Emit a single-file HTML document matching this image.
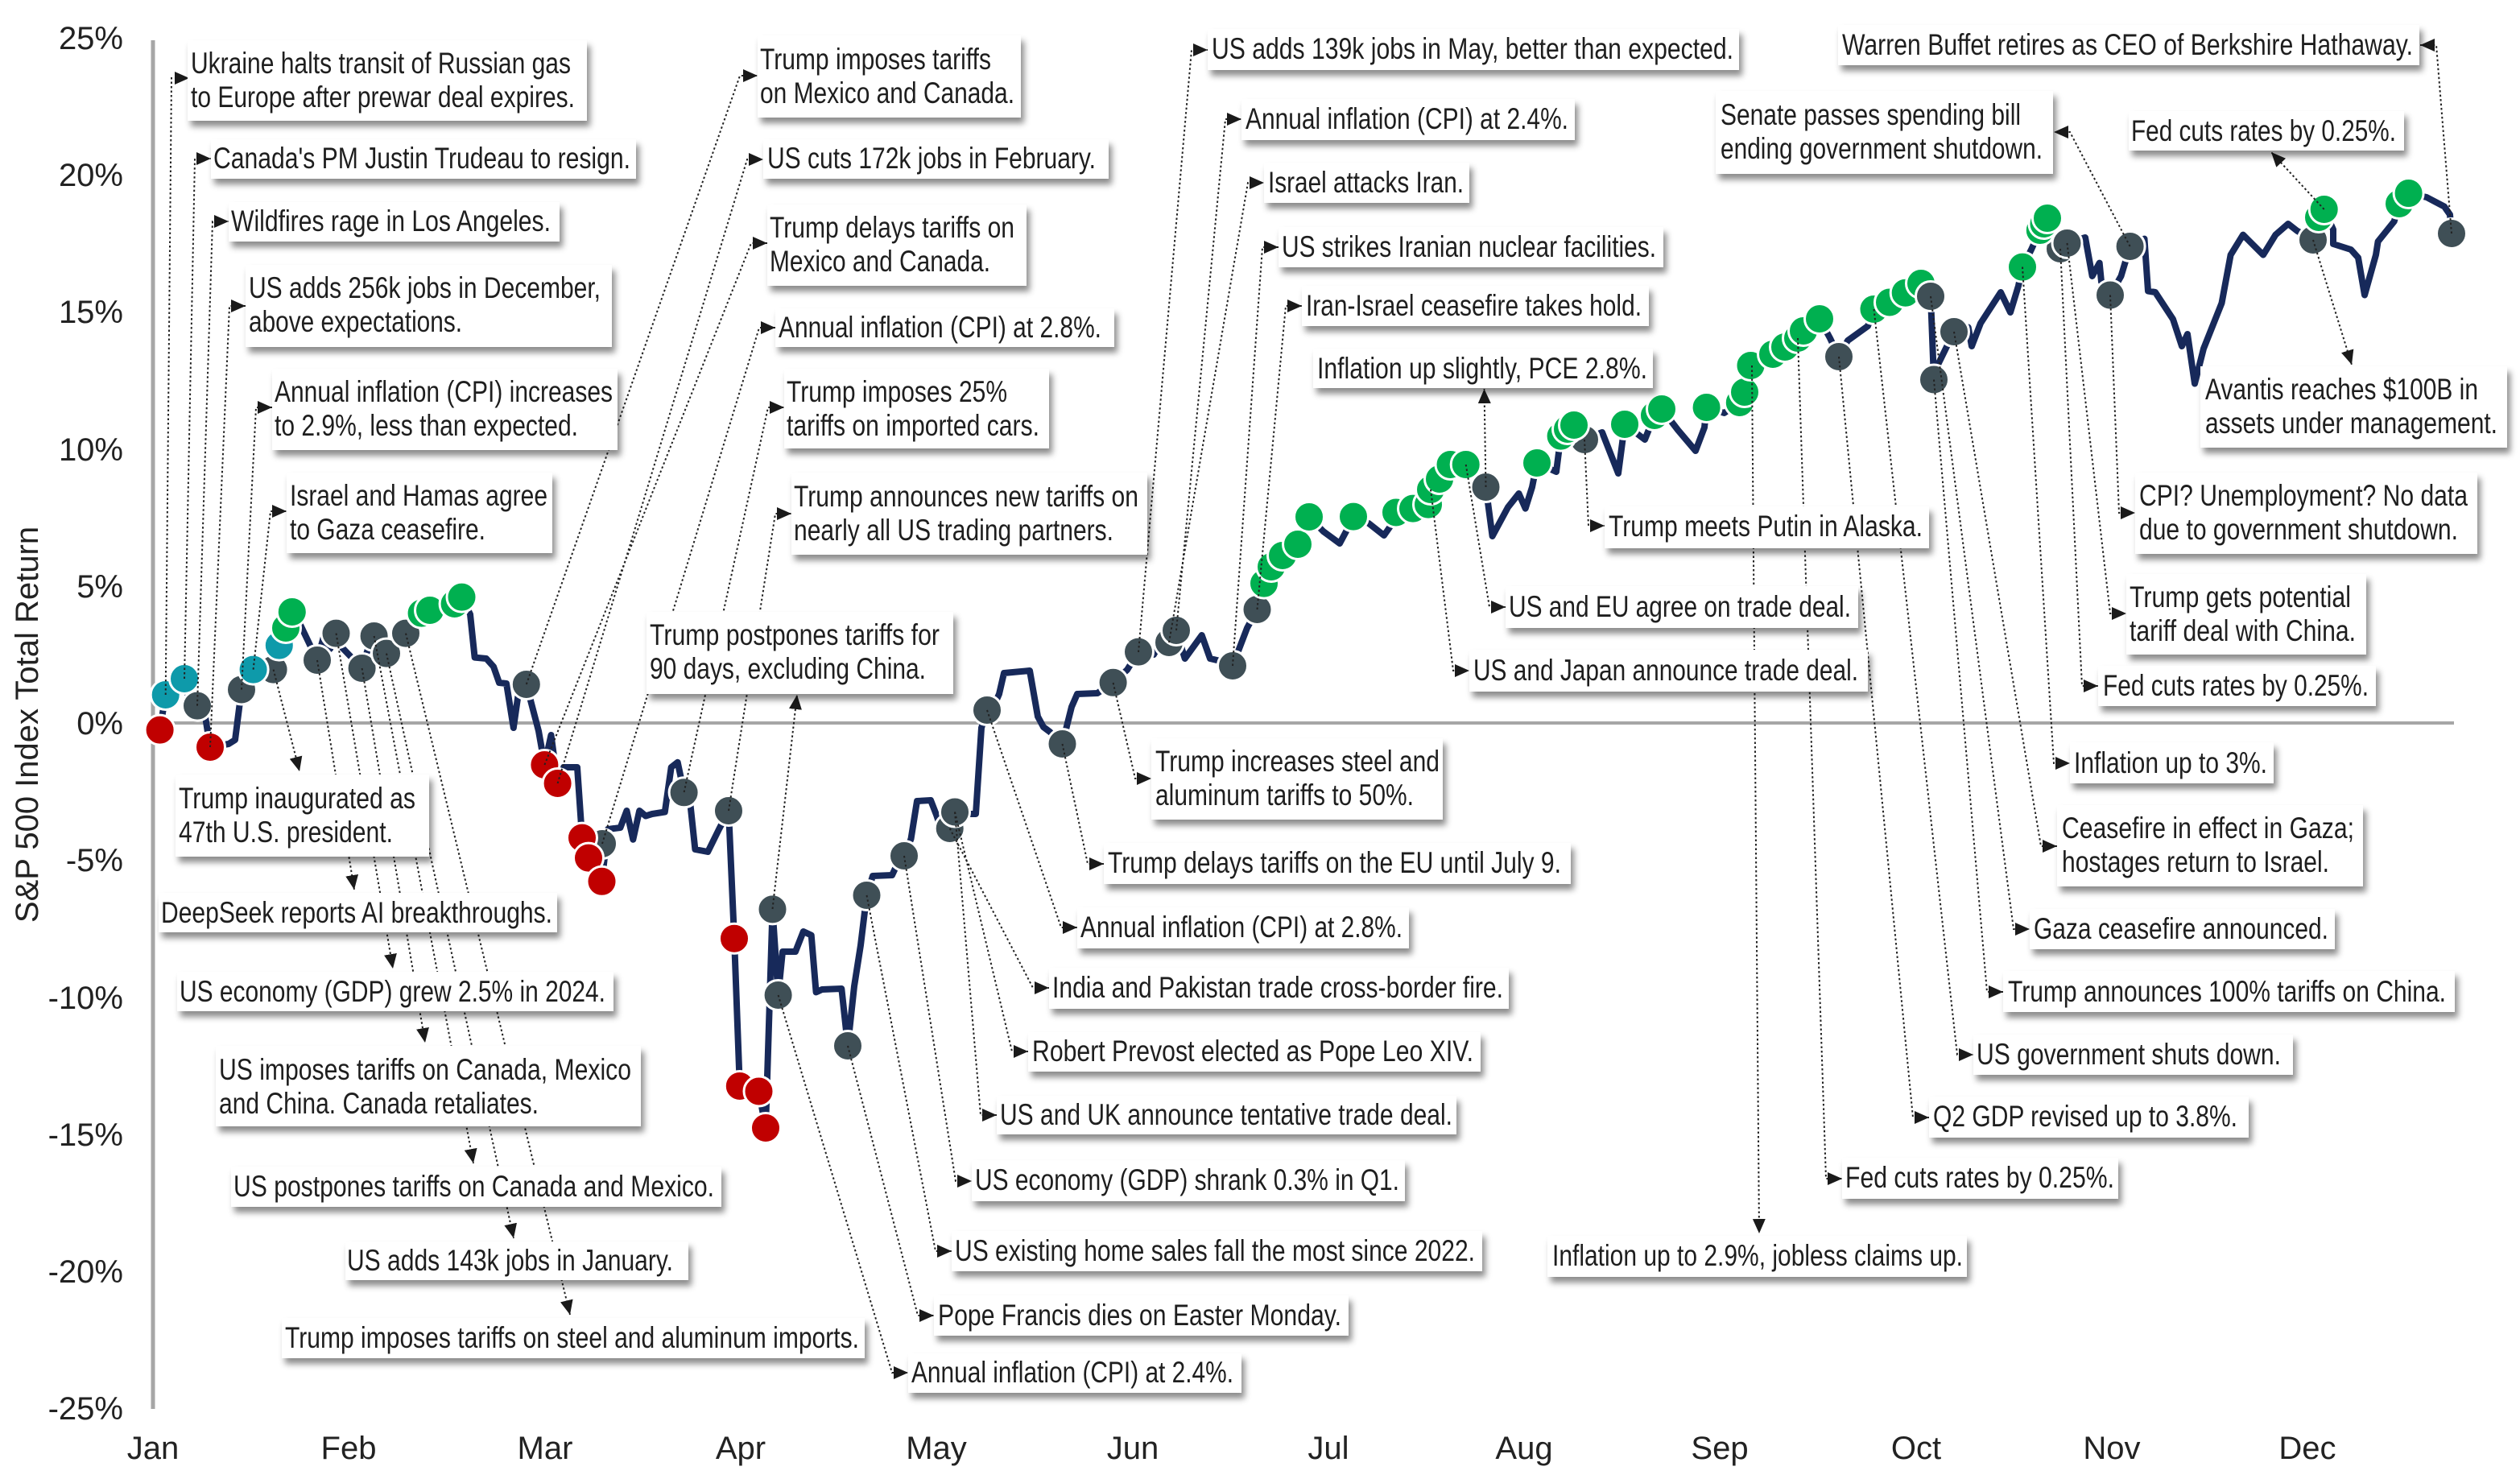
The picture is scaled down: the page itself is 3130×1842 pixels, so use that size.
<!DOCTYPE html>
<html><head><meta charset="utf-8"><style>html,body{margin:0;padding:0;background:#fff}svg{display:block}</style></head>
<body>
<svg width="3130" height="1842" viewBox="0 0 3130 1842" xmlns="http://www.w3.org/2000/svg" font-family="'Liberation Sans', Arial, sans-serif">
<defs>
<filter id="sh" x="-10%" y="-30%" width="130%" height="180%"><feDropShadow dx="4" dy="7" stdDeviation="4" flood-color="#000" flood-opacity="0.45"/></filter>
<marker id="ah" viewBox="0 0 18 16" refX="18" refY="8" markerWidth="18" markerHeight="16" markerUnits="userSpaceOnUse" orient="auto"><path d="M0,0L18,8L0,16Z" fill="#1a1a1a"/></marker>
</defs>
<rect width="3130" height="1842" fill="#fff"/>

<!-- axes -->
<line x1="190" y1="898" x2="3048" y2="898" stroke="#a6a6a6" stroke-width="4"/>
<line x1="190" y1="50" x2="190" y2="1750" stroke="#a6a6a6" stroke-width="5"/>

<g font-size="40" fill="#222" text-anchor="end">
<text x="153" y="61">25%</text>
<text x="153" y="231">20%</text>
<text x="153" y="401">15%</text>
<text x="153" y="572">10%</text>
<text x="153" y="742">5%</text>
<text x="153" y="912">0%</text>
<text x="153" y="1082">-5%</text>
<text x="153" y="1253">-10%</text>
<text x="153" y="1423">-15%</text>
<text x="153" y="1593">-20%</text>
<text x="153" y="1763">-25%</text>
</g>
<g font-size="40" fill="#222" text-anchor="middle">
<text x="190" y="1812">Jan</text>
<text x="433" y="1812">Feb</text>
<text x="677" y="1812">Mar</text>
<text x="920" y="1812">Apr</text>
<text x="1163" y="1812">May</text>
<text x="1407" y="1812">Jun</text>
<text x="1650" y="1812">Jul</text>
<text x="1893" y="1812">Aug</text>
<text x="2136" y="1812">Sep</text>
<text x="2380" y="1812">Oct</text>
<text x="2623" y="1812">Nov</text>
<text x="2866" y="1812">Dec</text>
</g>
<text transform="translate(47,900) rotate(-90)" text-anchor="middle" font-size="40" fill="#222">S&amp;P 500 Index Total Return</text>

<!-- data line -->
<polyline fill="none" stroke="#17295a" stroke-width="8" stroke-linejoin="round" stroke-linecap="round" points="198.6,906.6 205.7,863 229,843 237,880 245,876.6 253,878 261,928 284,924 292,919 300,856.5 308,864 314.6,831.6 339.6,831.6 346.8,801.6 355,780 362.8,760 370.6,771 394,820 402,791 410,806 417.5,786.6 425.5,805 449.6,830 457,806 464.6,790 473,784 480,811.6 504,786.6 512,789 516,797 523.6,761.6 534,758 564.6,750 573.5,741.6 584,763 589.6,816.6 604,818 613,828 620,848 629,849 637.8,904 645.5,850 653.8,850 669,908 676.4,950 684.5,913 692.6,973 700,953 717,953 723,1040.6 731,1065.6 740,1048 747.5,1094.8 755,1030 770.5,1028 778.4,1007 786.3,1042.7 794.2,1007 802,1013.5 810,1011 825.8,1008.5 833.7,953 841.7,946.8 849.6,984.3 857,995 863.4,1055 879.2,1058 893,1030 905,1007 912,1165.7 918.8,1349 942.5,1355.5 951,1401 959.5,1129.4 966.6,1236 972,1182 988,1182 997.8,1157 1007.7,1161.6 1013.6,1232.4 1021,1229 1045.3,1228 1053,1299 1061,1225 1069,1174 1076.5,1112 1084,1088 1108,1087 1116,1070 1123,1063 1131.5,1042 1139,995 1156,994 1163,1012 1171,1036 1179.7,1029 1186,1008.5 1194,1011 1212,1011 1219,904 1226,882 1234,878 1241,862 1247,836 1279,833 1289,890 1296,903 1304,909 1319.5,924 1331,878 1338,862 1363,861 1382.6,847.8 1400,832 1414,809.6 1433,813 1446,790 1452,798 1461,783 1471.7,818 1492.7,789 1503,818 1520,822 1531,827 1549,780 1561.5,757 1570,724.6 1579,704 1593,690 1612,676 1626,642 1643.6,660 1664,675 1672,660 1681,641.6 1700,650 1719,665 1726,655 1734,636.5 1755,631.6 1774,626.6 1777,608 1788,595 1801.5,577 1820.7,577 1845.5,605 1853.6,666 1873,630 1886.5,613 1894.7,631.6 1903,605 1909,575 1933,586 1938.6,541.6 1947,533 1955,528 1968,546 1990,537 2010,588 2018,527 2043,546 2055,516 2064,508 2084,534 2106,560 2117,531 2119.6,506 2141.6,513 2160.8,500 2167,487 2174.5,454 2202,440 2217,431 2233,420 2240,411 2260,396 2273,420 2284,443 2295,423 2320,405 2327.5,384 2347,375.5 2366.7,363.7 2386,352 2398,368 2402,471.5 2407,453 2427,412 2444.7,406.5 2449,430 2460,401.5 2485,363 2497,388 2507,355 2512,331.6 2523,310 2533.8,286 2538.5,278 2543,271 2559,309 2567.5,302 2590,295 2598.7,343 2607.7,326.6 2610,350 2621,366.5 2634.5,343 2645.6,306 2663.5,296.6 2668,361.5 2677,363 2699,396.5 2710,430 2717,415 2726,476.5 2737,433 2759.5,376.5 2770.6,316.6 2786,291.6 2811,316.6 2826.4,291.6 2842,278 2853,286.6 2873,298 2880,270 2886.7,260 2898,285 2898,303 2920,310 2929,320 2937,366.5 2951,316.6 2953.6,300 2973.7,275 2980,253 2991.6,240 3014,245 3036,256.6 3043,266.6 3045,290"/>

<!-- markers -->
<g stroke="#fff" stroke-width="3">
<circle cx="198.6" cy="906.6" r="18.5" fill="#c00000"/>
<circle cx="205.7" cy="863" r="18.5" fill="#0e9aaa"/>
<circle cx="229" cy="843" r="18.5" fill="#0e9aaa"/>
<circle cx="245" cy="876.6" r="18.5" fill="#3f4f56"/>
<circle cx="261" cy="928" r="18.5" fill="#c00000"/>
<circle cx="300" cy="856.5" r="18.5" fill="#3f4f56"/>
<circle cx="339.6" cy="831.6" r="18.5" fill="#3f4f56"/>
<circle cx="314.6" cy="831.6" r="18.5" fill="#0e9aaa"/>
<circle cx="346.8" cy="801.6" r="18.5" fill="#0e9aaa"/>
<circle cx="355" cy="780" r="18.5" fill="#00b050"/>
<circle cx="362.8" cy="760" r="18.5" fill="#00b050"/>
<circle cx="394" cy="820" r="18.5" fill="#3f4f56"/>
<circle cx="417.5" cy="786.6" r="18.5" fill="#3f4f56"/>
<circle cx="449.6" cy="830" r="18.5" fill="#3f4f56"/>
<circle cx="464.6" cy="790" r="18.5" fill="#3f4f56"/>
<circle cx="480" cy="811.6" r="18.5" fill="#3f4f56"/>
<circle cx="504" cy="786.6" r="18.5" fill="#3f4f56"/>
<circle cx="523.6" cy="761.6" r="18.5" fill="#00b050"/>
<circle cx="534" cy="758" r="18.5" fill="#00b050"/>
<circle cx="564.6" cy="750" r="18.5" fill="#00b050"/>
<circle cx="573.5" cy="741.6" r="18.5" fill="#00b050"/>
<circle cx="653.8" cy="850" r="18.5" fill="#3f4f56"/>
<circle cx="676.4" cy="950" r="18.5" fill="#c00000"/>
<circle cx="692.6" cy="973" r="18.5" fill="#c00000"/>
<circle cx="748" cy="1048" r="18.5" fill="#3f4f56"/>
<circle cx="723" cy="1040.6" r="18.5" fill="#c00000"/>
<circle cx="731" cy="1065.6" r="18.5" fill="#c00000"/>
<circle cx="747.5" cy="1094.8" r="18.5" fill="#c00000"/>
<circle cx="849.6" cy="984.3" r="18.5" fill="#3f4f56"/>
<circle cx="905" cy="1007" r="18.5" fill="#3f4f56"/>
<circle cx="912" cy="1165.7" r="18.5" fill="#c00000"/>
<circle cx="918.8" cy="1349" r="18.5" fill="#c00000"/>
<circle cx="942.5" cy="1355.5" r="18.5" fill="#c00000"/>
<circle cx="951" cy="1401" r="18.5" fill="#c00000"/>
<circle cx="959.5" cy="1129.4" r="18.5" fill="#3f4f56"/>
<circle cx="966.6" cy="1236" r="18.5" fill="#3f4f56"/>
<circle cx="1053" cy="1299" r="18.5" fill="#3f4f56"/>
<circle cx="1076.5" cy="1112" r="18.5" fill="#3f4f56"/>
<circle cx="1123" cy="1063" r="18.5" fill="#3f4f56"/>
<circle cx="1179.7" cy="1029" r="18.5" fill="#3f4f56"/>
<circle cx="1186" cy="1008.5" r="18.5" fill="#3f4f56"/>
<circle cx="1226" cy="882" r="18.5" fill="#3f4f56"/>
<circle cx="1319.5" cy="924" r="18.5" fill="#3f4f56"/>
<circle cx="1382.6" cy="847.8" r="18.5" fill="#3f4f56"/>
<circle cx="1414" cy="809.6" r="18.5" fill="#3f4f56"/>
<circle cx="1452" cy="798" r="18.5" fill="#3f4f56"/>
<circle cx="1461" cy="783" r="18.5" fill="#3f4f56"/>
<circle cx="1531" cy="827" r="18.5" fill="#3f4f56"/>
<circle cx="1561.5" cy="757" r="18.5" fill="#3f4f56"/>
<circle cx="1570" cy="724.6" r="18.5" fill="#00b050"/>
<circle cx="1579" cy="704" r="18.5" fill="#00b050"/>
<circle cx="1593" cy="690" r="18.5" fill="#00b050"/>
<circle cx="1612" cy="676" r="18.5" fill="#00b050"/>
<circle cx="1626" cy="642" r="18.5" fill="#00b050"/>
<circle cx="1681" cy="641.6" r="18.5" fill="#00b050"/>
<circle cx="1734" cy="636.5" r="18.5" fill="#00b050"/>
<circle cx="1755" cy="631.6" r="18.5" fill="#00b050"/>
<circle cx="1774" cy="626.6" r="18.5" fill="#00b050"/>
<circle cx="1777" cy="608" r="18.5" fill="#00b050"/>
<circle cx="1788" cy="595" r="18.5" fill="#00b050"/>
<circle cx="1801.5" cy="577" r="18.5" fill="#00b050"/>
<circle cx="1820.7" cy="577" r="18.5" fill="#00b050"/>
<circle cx="1845.5" cy="605" r="18.5" fill="#3f4f56"/>
<circle cx="1909" cy="575" r="18.5" fill="#00b050"/>
<circle cx="1968" cy="546" r="18.5" fill="#3f4f56"/>
<circle cx="1938.6" cy="541.6" r="18.5" fill="#00b050"/>
<circle cx="1947" cy="533" r="18.5" fill="#00b050"/>
<circle cx="1955" cy="528" r="18.5" fill="#00b050"/>
<circle cx="2018" cy="527" r="18.5" fill="#00b050"/>
<circle cx="2055" cy="516" r="18.5" fill="#00b050"/>
<circle cx="2064" cy="508" r="18.5" fill="#00b050"/>
<circle cx="2119.6" cy="506" r="18.5" fill="#00b050"/>
<circle cx="2160.8" cy="500" r="18.5" fill="#00b050"/>
<circle cx="2167" cy="487" r="18.5" fill="#00b050"/>
<circle cx="2174.5" cy="454" r="18.5" fill="#00b050"/>
<circle cx="2202" cy="440" r="18.5" fill="#00b050"/>
<circle cx="2217" cy="431" r="18.5" fill="#00b050"/>
<circle cx="2233" cy="420" r="18.5" fill="#00b050"/>
<circle cx="2240" cy="411" r="18.5" fill="#00b050"/>
<circle cx="2260" cy="396" r="18.5" fill="#00b050"/>
<circle cx="2284" cy="443" r="18.5" fill="#3f4f56"/>
<circle cx="2327.5" cy="384" r="18.5" fill="#00b050"/>
<circle cx="2347" cy="375.5" r="18.5" fill="#00b050"/>
<circle cx="2366.7" cy="363.7" r="18.5" fill="#00b050"/>
<circle cx="2386" cy="352" r="18.5" fill="#00b050"/>
<circle cx="2398" cy="368" r="18.5" fill="#3f4f56"/>
<circle cx="2402" cy="471.5" r="18.5" fill="#3f4f56"/>
<circle cx="2427" cy="412" r="18.5" fill="#3f4f56"/>
<circle cx="2512" cy="331.6" r="18.5" fill="#00b050"/>
<circle cx="2559" cy="309" r="18.5" fill="#3f4f56"/>
<circle cx="2567.5" cy="302" r="18.5" fill="#3f4f56"/>
<circle cx="2533.8" cy="286" r="18.5" fill="#00b050"/>
<circle cx="2538.5" cy="278" r="18.5" fill="#00b050"/>
<circle cx="2543" cy="271" r="18.5" fill="#00b050"/>
<circle cx="2621" cy="366.5" r="18.5" fill="#3f4f56"/>
<circle cx="2645.6" cy="306" r="18.5" fill="#3f4f56"/>
<circle cx="2873" cy="298" r="18.5" fill="#3f4f56"/>
<circle cx="2880" cy="270" r="18.5" fill="#00b050"/>
<circle cx="2886.7" cy="260" r="18.5" fill="#00b050"/>
<circle cx="2980" cy="253" r="18.5" fill="#00b050"/>
<circle cx="2991.6" cy="240" r="18.5" fill="#00b050"/>
<circle cx="3045" cy="290" r="18.5" fill="#3f4f56"/>
</g>

<!-- connectors -->
<g fill="none" stroke="#222" stroke-width="2" stroke-dasharray="2.5 3" marker-end="url(#ah)">
<polyline points="205.7,863 213,97 235,97"/>
<polyline points="229,843 242,197 262,197"/>
<polyline points="245,876.6 264,275 284,275"/>
<polyline points="261,928 285,380 305,380"/>
<polyline points="300,856.5 318,506 338,506"/>
<polyline points="314.6,831.6 336,635 356,635"/>
<polyline points="653.8,850 919,94 941,94"/>
<polyline points="692.6,973 928,198 948,198"/>
<polyline points="676.4,950 933,302 953,302"/>
<polyline points="748,1048 943,407 963,407"/>
<polyline points="849.6,984 954,506 974,506"/>
<polyline points="905,1007 963,638 983,638"/>
<polyline points="959.5,1129 990,863"/>
<polyline points="1414,810 1480,62 1500,62"/>
<polyline points="1461,783 1522,148 1542,148"/>
<polyline points="1452,798 1550,227 1570,227"/>
<polyline points="1531,827 1568,307 1588,307"/>
<polyline points="1561.5,757 1597,380 1617,380"/>
<polyline points="1845.5,605 1843.5,483"/>
<polyline points="1820.7,577 1850,754 1870,754"/>
<polyline points="1777,608 1805,833 1825,833"/>
<polyline points="1968,546 1973,653 1993,653"/>
<polyline points="3045,290 3026,56 3006,56"/>
<polyline points="2645.6,306 2571,164 2551,164"/>
<polyline points="2886.7,260 2821,189"/>
<polyline points="2873,298 2921,453"/>
<polyline points="2621,366.5 2632,637 2652,637"/>
<polyline points="2567.5,302 2621,762 2641,762"/>
<polyline points="2559,309 2586,852 2606,852"/>
<polyline points="2512,331.6 2551,948 2571,948"/>
<polyline points="2427,412 2535,1051 2555,1051"/>
<polyline points="2398,368 2501,1154 2521,1154"/>
<polyline points="2402,471.5 2468,1232 2488,1232"/>
<polyline points="2327.5,384 2431,1310 2451,1310"/>
<polyline points="2284,443 2376,1388 2396,1388"/>
<polyline points="2233,420 2268,1464 2288,1464"/>
<polyline points="2176,454 2185,1532"/>
<polyline points="1382.6,848 1410,967 1430,967"/>
<polyline points="1319.5,924 1351,1073 1371,1073"/>
<polyline points="1226,882 1318,1152 1338,1152"/>
<polyline points="1179.7,1029 1283,1227 1303,1227"/>
<polyline points="1186,1008.5 1257,1306 1277,1306"/>
<polyline points="1186,1008.5 1218,1385 1238,1385"/>
<polyline points="1123,1063 1187,1467 1207,1467"/>
<polyline points="1076.5,1112 1162,1554 1182,1554"/>
<polyline points="1053,1299 1140,1634 1160,1634"/>
<polyline points="966.6,1236 1108,1705 1128,1705"/>
<polyline points="339.6,831.6 372,958"/>
<polyline points="394,820 440,1105"/>
<polyline points="417.5,786.6 488,1203"/>
<polyline points="449.6,830 528,1295"/>
<polyline points="464.6,790 588,1445"/>
<polyline points="480,811.6 638,1538"/>
<polyline points="504,786.6 708,1633"/>
</g>

<!-- annotation boxes -->
<g fill="#fff" filter="url(#sh)">
<rect x="233" y="50" width="496" height="100"/>
<rect x="262" y="173" width="528" height="49"/>
<rect x="284" y="251" width="411" height="49"/>
<rect x="305" y="329" width="455" height="102"/>
<rect x="338" y="458" width="429" height="101"/>
<rect x="356" y="587" width="330" height="100"/>
<rect x="941" y="44" width="327" height="102"/>
<rect x="948" y="173" width="429" height="49"/>
<rect x="953" y="254" width="322" height="101"/>
<rect x="963" y="383" width="421" height="48"/>
<rect x="974" y="458" width="329" height="99"/>
<rect x="983" y="587" width="442" height="102"/>
<rect x="803" y="760" width="381" height="102"/>
<rect x="1500" y="36" width="660" height="51"/>
<rect x="1542" y="123" width="414" height="51"/>
<rect x="1570" y="202" width="255" height="50"/>
<rect x="1588" y="282" width="478" height="50"/>
<rect x="1617" y="355" width="431" height="50"/>
<rect x="1631" y="433" width="422" height="49"/>
<rect x="1870" y="728" width="438" height="52"/>
<rect x="1825" y="807" width="495" height="52"/>
<rect x="1993" y="629" width="403" height="52"/>
<rect x="2283" y="31" width="722" height="50"/>
<rect x="2131" y="113" width="419" height="103"/>
<rect x="2644" y="138" width="342" height="49"/>
<rect x="2733" y="455" width="381" height="101"/>
<rect x="2652" y="587" width="425" height="101"/>
<rect x="2641" y="713" width="298" height="100"/>
<rect x="2606" y="827" width="345" height="50"/>
<rect x="2571" y="922" width="253" height="51"/>
<rect x="2555" y="1000" width="380" height="101"/>
<rect x="2521" y="1129" width="379" height="50"/>
<rect x="2488" y="1206" width="561" height="51"/>
<rect x="2451" y="1285" width="397" height="50"/>
<rect x="2396" y="1362" width="397" height="51"/>
<rect x="2288" y="1438" width="343" height="51"/>
<rect x="1922" y="1535" width="521" height="51"/>
<rect x="1430" y="917" width="362" height="101"/>
<rect x="1371" y="1047" width="580" height="51"/>
<rect x="1338" y="1127" width="412" height="51"/>
<rect x="1303" y="1202" width="571" height="51"/>
<rect x="1277" y="1282" width="562" height="49"/>
<rect x="1238" y="1361" width="571" height="48"/>
<rect x="1207" y="1441" width="538" height="51"/>
<rect x="1182" y="1529" width="659" height="50"/>
<rect x="1160" y="1609" width="515" height="50"/>
<rect x="1128" y="1681" width="414" height="49"/>
<rect x="218" y="962" width="315" height="102"/>
<rect x="197" y="1109" width="495" height="49"/>
<rect x="220" y="1207" width="542" height="49"/>
<rect x="268" y="1299" width="528" height="100"/>
<rect x="287" y="1449" width="609" height="50"/>
<rect x="429" y="1542" width="426" height="48"/>
<rect x="350" y="1637" width="724" height="50"/>
</g>

<!-- annotation text -->
<g font-size="37" fill="#1e1e1e">
<text x="237" y="91" textLength="472" lengthAdjust="spacingAndGlyphs">Ukraine halts transit of Russian gas</text>
<text x="237" y="133" textLength="477" lengthAdjust="spacingAndGlyphs">to Europe after prewar deal expires.</text>
<text x="265" y="209" textLength="518" lengthAdjust="spacingAndGlyphs">Canada's PM Justin Trudeau to resign.</text>
<text x="287" y="287" textLength="397" lengthAdjust="spacingAndGlyphs">Wildfires rage in Los Angeles.</text>
<text x="309" y="370" textLength="437" lengthAdjust="spacingAndGlyphs">US adds 256k jobs in December,</text>
<text x="309" y="412" textLength="265" lengthAdjust="spacingAndGlyphs">above expectations.</text>
<text x="341" y="499" textLength="420" lengthAdjust="spacingAndGlyphs">Annual inflation (CPI) increases</text>
<text x="341" y="541" textLength="377" lengthAdjust="spacingAndGlyphs">to 2.9%, less than expected.</text>
<text x="360" y="628" textLength="320" lengthAdjust="spacingAndGlyphs">Israel and Hamas agree</text>
<text x="360" y="670" textLength="243" lengthAdjust="spacingAndGlyphs">to Gaza ceasefire.</text>

<text x="944" y="86" textLength="287" lengthAdjust="spacingAndGlyphs">Trump imposes tariffs</text>
<text x="944" y="128" textLength="316" lengthAdjust="spacingAndGlyphs">on Mexico and Canada.</text>
<text x="953" y="209" textLength="408" lengthAdjust="spacingAndGlyphs">US cuts 172k jobs in February.</text>
<text x="956" y="295" textLength="304" lengthAdjust="spacingAndGlyphs">Trump delays tariffs on</text>
<text x="956" y="337" textLength="274" lengthAdjust="spacingAndGlyphs">Mexico and Canada.</text>
<text x="967" y="419" textLength="401" lengthAdjust="spacingAndGlyphs">Annual inflation (CPI) at 2.8%.</text>
<text x="977" y="499" textLength="274" lengthAdjust="spacingAndGlyphs">Trump imposes 25%</text>
<text x="977" y="541" textLength="314" lengthAdjust="spacingAndGlyphs">tariffs on imported cars.</text>
<text x="986" y="629" textLength="428" lengthAdjust="spacingAndGlyphs">Trump announces new tariffs on</text>
<text x="986" y="671" textLength="397" lengthAdjust="spacingAndGlyphs">nearly all US trading partners.</text>
<text x="807" y="801" textLength="360" lengthAdjust="spacingAndGlyphs">Trump postpones tariffs for</text>
<text x="807" y="843" textLength="343" lengthAdjust="spacingAndGlyphs">90 days, excluding China.</text>

<text x="1505" y="73" textLength="648" lengthAdjust="spacingAndGlyphs">US adds 139k jobs in May, better than expected.</text>
<text x="1547" y="160" textLength="401" lengthAdjust="spacingAndGlyphs">Annual inflation (CPI) at 2.4%.</text>
<text x="1575" y="239" textLength="243" lengthAdjust="spacingAndGlyphs">Israel attacks Iran.</text>
<text x="1592" y="319" textLength="465" lengthAdjust="spacingAndGlyphs">US strikes Iranian nuclear facilities.</text>
<text x="1622" y="392" textLength="417" lengthAdjust="spacingAndGlyphs">Iran-Israel ceasefire takes hold.</text>
<text x="1636" y="470" textLength="410" lengthAdjust="spacingAndGlyphs">Inflation up slightly, PCE 2.8%.</text>
<text x="1874" y="766" textLength="425" lengthAdjust="spacingAndGlyphs">US and EU agree on trade deal.</text>
<text x="1830" y="845" textLength="478" lengthAdjust="spacingAndGlyphs">US and Japan announce trade deal.</text>
<text x="1998" y="666" textLength="390" lengthAdjust="spacingAndGlyphs">Trump meets Putin in Alaska.</text>

<text x="2288" y="68" textLength="709" lengthAdjust="spacingAndGlyphs">Warren Buffet retires as CEO of Berkshire Hathaway.</text>
<text x="2137" y="155" textLength="373" lengthAdjust="spacingAndGlyphs">Senate passes spending bill</text>
<text x="2137" y="197" textLength="400" lengthAdjust="spacingAndGlyphs">ending government shutdown.</text>
<text x="2647" y="175" textLength="329" lengthAdjust="spacingAndGlyphs">Fed cuts rates by 0.25%.</text>
<text x="2739" y="496" textLength="339" lengthAdjust="spacingAndGlyphs">Avantis reaches $100B in</text>
<text x="2739" y="538" textLength="363" lengthAdjust="spacingAndGlyphs">assets under management.</text>
<text x="2657" y="628" textLength="408" lengthAdjust="spacingAndGlyphs">CPI? Unemployment? No data</text>
<text x="2657" y="670" textLength="396" lengthAdjust="spacingAndGlyphs">due to government shutdown.</text>
<text x="2645" y="754" textLength="275" lengthAdjust="spacingAndGlyphs">Trump gets potential</text>
<text x="2645" y="796" textLength="281" lengthAdjust="spacingAndGlyphs">tariff deal with China.</text>
<text x="2612" y="864" textLength="330" lengthAdjust="spacingAndGlyphs">Fed cuts rates by 0.25%.</text>

<text x="2576" y="960" textLength="240" lengthAdjust="spacingAndGlyphs">Inflation up to 3%.</text>
<text x="2561" y="1041" textLength="363" lengthAdjust="spacingAndGlyphs">Ceasefire in effect in Gaza;</text>
<text x="2561" y="1083" textLength="332" lengthAdjust="spacingAndGlyphs">hostages return to Israel.</text>
<text x="2526" y="1166" textLength="366" lengthAdjust="spacingAndGlyphs">Gaza ceasefire announced.</text>
<text x="2494" y="1244" textLength="544" lengthAdjust="spacingAndGlyphs">Trump announces 100% tariffs on China.</text>
<text x="2455" y="1322" textLength="378" lengthAdjust="spacingAndGlyphs">US government shuts down.</text>
<text x="2401" y="1399" textLength="378" lengthAdjust="spacingAndGlyphs">Q2 GDP revised up to 3.8%.</text>
<text x="2292" y="1475" textLength="334" lengthAdjust="spacingAndGlyphs">Fed cuts rates by 0.25%.</text>
<text x="1928" y="1572" textLength="510" lengthAdjust="spacingAndGlyphs">Inflation up to 2.9%, jobless claims up.</text>

<text x="1435" y="958" textLength="353" lengthAdjust="spacingAndGlyphs">Trump increases steel and</text>
<text x="1435" y="1000" textLength="321" lengthAdjust="spacingAndGlyphs">aluminum tariffs to 50%.</text>
<text x="1376" y="1084" textLength="563" lengthAdjust="spacingAndGlyphs">Trump delays tariffs on the EU until July 9.</text>
<text x="1342" y="1164" textLength="400" lengthAdjust="spacingAndGlyphs">Annual inflation (CPI) at 2.8%.</text>
<text x="1307" y="1239" textLength="560" lengthAdjust="spacingAndGlyphs">India and Pakistan trade cross-border fire.</text>
<text x="1282" y="1318" textLength="548" lengthAdjust="spacingAndGlyphs">Robert Prevost elected as Pope Leo XIV.</text>
<text x="1242" y="1397" textLength="562" lengthAdjust="spacingAndGlyphs">US and UK announce tentative trade deal.</text>
<text x="1211" y="1478" textLength="527" lengthAdjust="spacingAndGlyphs">US economy (GDP) shrank 0.3% in Q1.</text>
<text x="1186" y="1566" textLength="646" lengthAdjust="spacingAndGlyphs">US existing home sales fall the most since 2022.</text>
<text x="1165" y="1646" textLength="501" lengthAdjust="spacingAndGlyphs">Pope Francis dies on Easter Monday.</text>
<text x="1132" y="1717" textLength="400" lengthAdjust="spacingAndGlyphs">Annual inflation (CPI) at 2.4%.</text>

<text x="222" y="1004" textLength="294" lengthAdjust="spacingAndGlyphs">Trump inaugurated as</text>
<text x="222" y="1046" textLength="266" lengthAdjust="spacingAndGlyphs">47th U.S. president.</text>
<text x="200" y="1146" textLength="486" lengthAdjust="spacingAndGlyphs">DeepSeek reports AI breakthroughs.</text>
<text x="223" y="1244" textLength="529" lengthAdjust="spacingAndGlyphs">US economy (GDP) grew 2.5% in 2024.</text>
<text x="272" y="1341" textLength="512" lengthAdjust="spacingAndGlyphs">US imposes tariffs on Canada, Mexico</text>
<text x="272" y="1383" textLength="397" lengthAdjust="spacingAndGlyphs">and China. Canada retaliates.</text>
<text x="290" y="1486" textLength="597" lengthAdjust="spacingAndGlyphs">US postpones tariffs on Canada and Mexico.</text>
<text x="431" y="1578" textLength="405" lengthAdjust="spacingAndGlyphs">US adds 143k jobs in January.</text>
<text x="354" y="1674" textLength="713" lengthAdjust="spacingAndGlyphs">Trump imposes tariffs on steel and aluminum imports.</text>
</g>
</svg>
</body></html>
